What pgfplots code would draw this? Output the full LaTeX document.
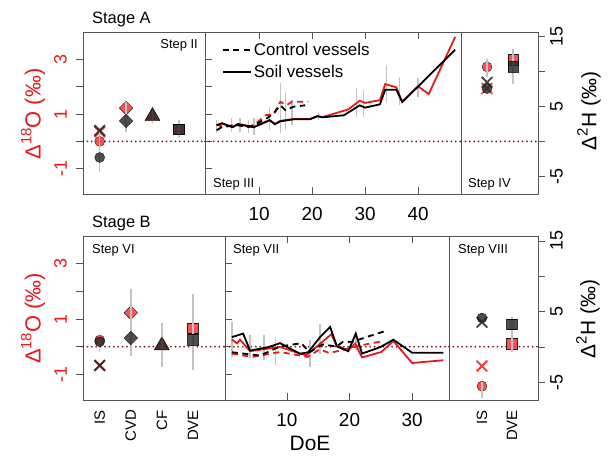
\documentclass[border=0pt]{standalone}
\usepackage{pgfplots}
\pgfplotsset{compat=1.18}
\usepackage{fontspec}
\setmainfont{Liberation Sans}
\definecolor{myred}{RGB}{228,26,28}
\definecolor{mkred}{RGB}{245,55,55}
\definecolor{mkblk}{RGB}{35,35,35}
\definecolor{barg}{RGB}{195,195,195}
\definecolor{dotc}{RGB}{120,30,40}
\definecolor{framec}{RGB}{85,85,85}
\pgfplotsset{
  panel/.style={scale only axis, anchor=south west,
    axis line style={framec, line width=0.8bp},
    every tick/.style={framec, line width=0.8bp},
    major tick length=7bp, xtick=\empty, ytick=\empty, clip=false},
  Oax/.style={ymin=-1.93, ymax=4.01},
  Hax/.style={ymin=-7.5, ymax=15.7, hide axis},
  trow/.style={height=162bp},
  brow/.style={height=164bp},
  leftO/.style={ytick={-1,0,1,2,3}, yticklabels={-1,,1,,3}, ytick align=outside,
    yticklabel style={xshift=-9bp, rotate=90, anchor=south, inner sep=0pt, font=\fontsize{18}{18}\selectfont, text=myred}},
  rightH/.style={ymin=-7.5, ymax=15.7, axis x line=none, axis y line*=right,
    ytick={-5,0,5,10,15}, yticklabels={-5,,5,,15}, ytick align=outside,
    yticklabel style={xshift=5bp, rotate=90, anchor=north, inner sep=0pt, font=\fontsize{18}{18}\selectfont}},
  doeax/.style={xtick align=inside, xticklabel style={yshift=-13bp, inner sep=0pt, font=\fontsize{19}{19}\selectfont}},
  catax/.style={xtick style={draw=none}, xticklabel style={yshift=-10bp, rotate=90, anchor=east, inner sep=0pt, font=\fontsize{15}{15}\selectfont}},
  zline/.style={dotc, line width=2bp, line cap=round, dash pattern=on 0bp off 4.4bp, forget plot},
  rl/.style={myred, line width=1.8bp},
  bl/.style={black, line width=1.8bp},
  rld/.style={myred, line width=1.8bp, dash pattern=on 6bp off 4.5bp},
  bld/.style={black, line width=1.8bp, dash pattern=on 6bp off 4.5bp},
  ebar/.style={barg, line width=1.5bp, unbounded coords=jump, forget plot},
  rcirc/.style={only marks, mark=*, mark size=5bp, mark options={draw=none, fill=mkred, opacity=0.85}},
  rdia/.style={only marks, mark=square*, mark size=4.8bp, mark options={rotate=45, draw=none, fill=mkred, opacity=0.85}},
  rtri/.style={only marks, mark=triangle*, mark size=8.5bp, mark options={draw=none, fill=mkred, opacity=0.85}},
  rsq/.style={only marks, mark=square*, mark size=5.3bp, mark options={draw=none, fill=mkred, opacity=0.85}},
  rx/.style={only marks, mark=x, mark size=7.5bp, mark options={draw=mkred, line width=1.8bp}},
  bcirc/.style={only marks, mark=*, mark size=5bp, mark options={draw=none, fill=mkblk, opacity=0.8}},
  bdia/.style={only marks, mark=square*, mark size=4.8bp, mark options={rotate=45, draw=none, fill=mkblk, opacity=0.8}},
  btri/.style={only marks, mark=triangle*, mark size=8.5bp, mark options={draw=none, fill=mkblk, opacity=0.8}},
  bsq/.style={only marks, mark=square*, mark size=5.3bp, mark options={draw=none, fill=mkblk, opacity=0.8}},
  bx/.style={only marks, mark=x, mark size=7.5bp, mark options={draw=mkblk, line width=1.8bp, opacity=0.85}},
}
\begin{document}
\begin{tikzpicture}
\useasboundingbox (0,0) rectangle (611bp,456bp);
% ================= TOP ROW =================
% A1 Step II
\begin{axis}[panel, trow, Oax, leftO, at={(83bp,262bp)}, width=122bp, xmin=0.367, xmax=4.99]
\addplot[zline] coordinates {(0.367,0) (4.99,0)};
\addplot[rcirc] coordinates {(1,0.0)};
\addplot[rx] coordinates {(1,0.35)};
\addplot[rdia] coordinates {(2,1.22)};
\addplot[rtri] coordinates {(3,0.93)};
\addplot[rsq] coordinates {(4,0.45)};
\end{axis}
\begin{axis}[panel, trow, Hax, at={(83bp,262bp)}, width=122bp, xmin=0.367, xmax=4.99]
\addplot[bcirc] coordinates {(1,-2.27)};
\addplot[bx] coordinates {(1,1.6)};
\addplot[bdia] coordinates {(2,2.96)};
\addplot[btri] coordinates {(3,3.6)};
\addplot[bsq] coordinates {(4,1.8)};
\addplot[ebar] coordinates {(1,2.1) (1,-4.33) (1,nan) (2,5.67) (2,1.39) (2,nan) (3,4.77) (3,2.63) (3,nan) (4,3.06) (4,0.49)};
\end{axis}
% A2 Step III
\begin{axis}[panel, trow, Oax, doeax, at={(205bp,262bp)}, width=256bp, xmin=-0.2, xmax=48.1,
  xtick={10,20,30,40}, xticklabels={10,20,30,40}]
\addplot[zline] coordinates {(-0.2,0) (48.1,0)};
\addplot[ebar] coordinates {(2,0.78) (2,0.31) (2,nan) (4.8,0.86) (4.8,0.34) (4.8,nan) (6.4,0.86) (6.4,0.34) (6.4,nan)
 (8,0.78) (8,0.31) (8,nan) (9,0.86) (9,0.23) (9,nan) (12,1.26) (12,0.42) (12,nan) (14,2.13) (14,0.31) (14,nan)
 (15,1.81) (15,0.42) (15,nan) (16.2,1.51) (16.2,0.6) (16.2,nan) (21.2,1.04) (21.2,0.78) (21.2,nan)
 (28.4,1.95) (28.4,0.89) (28.4,nan) (29.7,1.88) (29.7,0.89) (29.7,nan) (34,2.79) (34,1.40) (34,nan)
 (36.5,2.35) (36.5,1.33) (36.5,nan) (40,2.32) (40,1.62)};
\addplot[rld] coordinates {(2,0.61) (3,0.55) (6,0.60) (8,0.53) (9,0.60) (11.4,0.97) (12.7,0.97) (14,1.45) (15.2,1.33) (16.2,1.45) (19.3,1.45)};
\addplot[rl] coordinates {(2,0.60) (3,0.66) (5,0.53) (6,0.64) (9,0.53) (12,0.78) (13,0.64) (14,0.75) (16.5,0.82) (19.6,0.82) (21,0.93) (22,0.89) (26.8,1.17) (29,1.49) (30,1.41) (32.8,1.51) (33.8,2.10) (35.9,1.98) (37,1.45) (40,2.02) (42,1.73) (47,3.83)};
\end{axis}
\begin{axis}[panel, trow, Hax, at={(205bp,262bp)}, width=256bp, xmin=-0.2, xmax=48.1,
  legend style={draw=none, fill=none, inner sep=0pt, font=\fontsize{17}{17}\selectfont, row sep=4bp,
    at={(axis description cs:0.066,0.945)}, anchor=north west},
  legend cell align=left,
  legend image code/.code={\draw[#1] (0bp,0bp) -- (28bp,0bp);}]
\addlegendimage{bld}\addlegendentry{Control vessels}
\addlegendimage{bl}\addlegendentry{Soil vessels}
\addplot[bld, forget plot] coordinates {(2,1.63) (3,2.1) (6,2.34) (8,2.1) (9,2.34) (11.4,3.3) (12.7,4.0) (14,5.2) (15,4.49) (16.5,5.0) (18.7,5.2)};
\addplot[bl, forget plot] coordinates {(2,2.34) (3,2.63) (5,2.06) (6,2.49) (9,2.06) (12,3.06) (13,2.49) (14,2.91) (16.5,3.2) (19.6,3.2) (21,3.63) (22,3.49) (26,3.77) (29,5.2) (30,4.87) (32.8,5.34) (33.8,7.44) (35.9,7.44) (37,5.67) (40,7.9) (47,13.16)};
\end{axis}
% A3 Step IV
\begin{axis}[panel, trow, Oax, at={(461bp,262bp)}, width=77bp, xmin=0, xmax=2.96]
\addplot[zline] coordinates {(0,0) (2.96,0)};
\addplot[rx] coordinates {(1,1.94)};
\addplot[rcirc] coordinates {(1,2.73)};
\addplot[rsq] coordinates {(2,3.0)};
\end{axis}
\begin{axis}[panel, trow, rightH, at={(461bp,262bp)}, width=77bp, xmin=0, xmax=2.96]
\addplot[bcirc] coordinates {(1,7.6)};
\addplot[bx] coordinates {(1,8.5)};
\addplot[bsq] coordinates {(2,10.7)};
\addplot[ebar] coordinates {(1,11.9) (1,9.2) (1,nan) (2,13.3) (2,8.3)};
\end{axis}
% ================= BOTTOM ROW =================
% B1 Step VI
\begin{axis}[panel, brow, Oax, leftO, catax, at={(83bp,56bp)}, width=142bp, xmin=0.463, xmax=5.03,
  xtick={1,2,3,4}, xticklabels={IS,CVD,CF,DVE}]
\addplot[zline] coordinates {(0.463,0) (5.03,0)};
\addplot[rcirc] coordinates {(1,0.24)};
\addplot[rx] coordinates {(1,-0.67)};
\addplot[rdia] coordinates {(2,1.23)};
\addplot[rtri] coordinates {(3,0.05)};
\addplot[rsq] coordinates {(4,0.67)};
\end{axis}
\begin{axis}[panel, brow, Hax, at={(83bp,56bp)}, width=142bp, xmin=0.463, xmax=5.03]
\addplot[ebar] coordinates {(1,1.79) (1,-0.64) (1,nan) (2,8.17) (2,-1.26) (2,nan) (3,3.36) (3,-2.79) (3,nan) (4,7.5) (4,-3.26)};
\addplot[bcirc] coordinates {(1,0.74)};
\addplot[bx] coordinates {(1,-2.64)};
\addplot[bdia] coordinates {(2,1.26)};
\addplot[btri] coordinates {(3,0.2)};
\addplot[bsq] coordinates {(4,1.07)};
\end{axis}
% B2 Step VII
\begin{axis}[panel, brow, Oax, doeax, at={(225bp,56bp)}, width=224bp, xmin=0.1, xmax=35.9,
  xtick={10,20,30}, xticklabels={10,20,30}]
\addplot[zline] coordinates {(0.1,0) (35.9,0)};
\addplot[ebar] coordinates {(1.2,0.9) (1.2,-0.37) (1.2,nan) (4.1,0.42) (4.1,-0.42) (4.1,nan) (6.3,0.42) (6.3,-0.49) (6.3,nan)
 (8.2,0.36) (8.2,-0.67) (8.2,nan) (13.7,0.24) (13.7,-0.73) (13.7,nan) (15.3,0.84) (15.3,-0.25) (15.3,nan) (21,0.49) (21,-0.13)};
\addplot[rld] coordinates {(1.2,-0.25) (4.5,-0.37) (8.9,-0.19) (13.3,-0.37) (15.2,-0.10) (16.8,-0.23) (20.3,-0.04) (22.7,0.09) (25.1,0.19)};
\addplot[rl] coordinates {(1.2,0.26) (2.0,0.12) (2.5,0.26) (4.1,-0.16) (8.9,-0.01) (11.3,-0.19) (13.1,-0.31) (15,0.05) (17.1,0.45) (17.9,0.05) (19.8,-0.13) (20.9,0.12) (22,-0.39) (25.1,-0.19) (27,0.21) (30,-0.59) (35,-0.49)};
\end{axis}
\begin{axis}[panel, brow, Hax, at={(225bp,56bp)}, width=224bp, xmin=0.1, xmax=35.9]
\addplot[bld] coordinates {(1.2,-0.74) (5.7,-1.21) (8.9,0.07) (12.3,0.54) (13.6,-0.74) (15.7,0.36) (17.9,0.07) (18.9,0.69) (20.5,0.74) (22.7,1.4) (25.9,2.31)};
\addplot[bl] coordinates {(1.2,1.4) (3.0,1.89) (4.1,-0.5) (7.0,-0.03) (8.9,0.54) (12.1,-0.97) (13.4,-0.74) (15.3,1.4) (16.9,2.83) (18,0.07) (19.8,-0.6) (21,1.89) (22,-0.93) (24.9,-0.03) (27,1.03) (30,-0.81) (35,-0.81)};
\end{axis}
% B3 Step VIII
\begin{axis}[panel, brow, Oax, catax, at={(449bp,56bp)}, width=89bp, xmin=-0.1, xmax=2.87,
  xtick={1,2}, xticklabels={IS,DVE}]
\addplot[zline] coordinates {(-0.1,0) (2.87,0)};
\addplot[rx] coordinates {(1,-0.70)};
\addplot[rcirc] coordinates {(1,-1.43)};
\addplot[rsq] coordinates {(2,0.12)};
\end{axis}
\begin{axis}[panel, brow, rightH, at={(449bp,56bp)}, width=89bp, xmin=-0.1, xmax=2.87]
\addplot[ebar] coordinates {(2,4.26) (2,-0.74) (2,nan) (1,-5.0) (1,-7.2)};
\addplot[bcirc] coordinates {(1,4.1)};
\addplot[bx] coordinates {(1,3.5)};
\addplot[bsq] coordinates {(2,3.2)};
\end{axis}
% ================= TEXT =================
\node[anchor=base west, inner sep=0pt, font=\fontsize{16.5}{16.5}\selectfont] at (92bp,432bp) {Stage A};
\node[anchor=base west, inner sep=0pt, font=\fontsize{16.5}{16.5}\selectfont] at (92bp,228bp) {Stage B};
\node[anchor=base east, inner sep=0pt, font=\fontsize{13}{13}\selectfont] at (198bp,407.4bp) {Step II};
\node[anchor=base west, inner sep=0pt, font=\fontsize{13}{13}\selectfont] at (213bp,268.4bp) {Step III};
\node[anchor=base west, inner sep=0pt, font=\fontsize{13}{13}\selectfont] at (468bp,268.4bp) {Step IV};
\node[anchor=base west, inner sep=0pt, font=\fontsize{13}{13}\selectfont] at (92bp,202bp) {Step VI};
\node[anchor=base west, inner sep=0pt, font=\fontsize{13}{13}\selectfont] at (233bp,202bp) {Step VII};
\node[anchor=base west, inner sep=0pt, font=\fontsize{13}{13}\selectfont] at (458bp,202bp) {Step VIII};
\node[anchor=base, inner sep=0pt, font=\fontsize{21}{21}\selectfont] at (310bp,6bp) {DoE};
\node[rotate=90, inner sep=0pt, text=myred, font=\fontsize{22}{22}\selectfont] at (33bp,342bp) {Δ\raisebox{0.42em}{\fontsize{15}{15}\selectfont 18}O (‰)};
\node[rotate=90, inner sep=0pt, text=myred, font=\fontsize{22}{22}\selectfont] at (33bp,137.5bp) {Δ\raisebox{0.42em}{\fontsize{15}{15}\selectfont 18}O (‰)};
\node[rotate=90, inner sep=0pt, font=\fontsize{21}{21}\selectfont] at (589bp,345bp) {Δ\raisebox{0.42em}{\fontsize{15}{15}\selectfont 2}H (‰)};
\node[rotate=90, inner sep=0pt, font=\fontsize{21}{21}\selectfont] at (588bp,137bp) {Δ\raisebox{0.42em}{\fontsize{15}{15}\selectfont 2}H (‰)};
\end{tikzpicture}
\end{document}
